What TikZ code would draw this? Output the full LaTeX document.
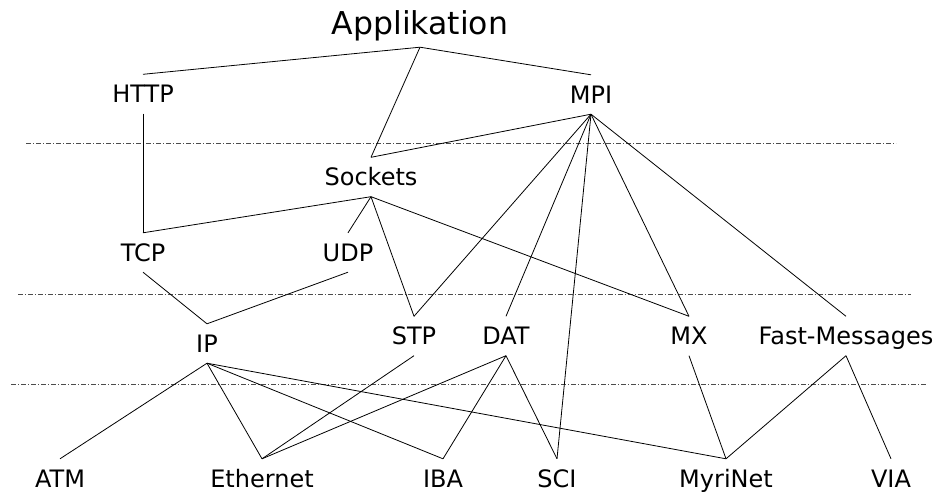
\documentclass[tikz,border=0pt]{standalone}
\usepackage{fontspec}
\setmainfont{DejaVu Sans}
\begin{document}
\begin{tikzpicture}[x=1pt,y=-1pt,
  lbl/.style={inner xsep=0pt, inner ysep=11pt, text height=17pt, text depth=0pt,
              font=\fontsize{24}{27}\selectfont},
  title/.style={inner xsep=0pt, inner ysep=12pt, text height=23pt, text depth=0pt,
              font=\fontsize{31.5}{34}\selectfont},
  link/.style={draw=black, line width=0.8pt},
  layer/.style={draw=black!70, line width=0.6pt, dash pattern=on 5pt off 2pt on 1pt off 2pt}]
\useasboundingbox (0,0) rectangle (938,495);

% layer separators
\coordinate (s1a) at (26,143);  \coordinate (s1b) at (896,143);
\coordinate (s2a) at (18,294);  \coordinate (s2b) at (911,294);
\coordinate (s3a) at (11,384);  \coordinate (s3b) at (926,384);
\draw[layer] (s1a) -- (s1b);
\draw[layer] (s2a) -- (s2b);
\draw[layer] (s3a) -- (s3b);

% nodes
\node[title] (app) at (420,23.5) {Applikation};
\node[lbl] (http) at (143,94) {HTTP};
\node[lbl] (mpi) at (591,94.5) {MPI};
\node[lbl] (sock) at (371,177) {Sockets};
\node[lbl] (tcp) at (143,252.5) {TCP};
\node[lbl] (udp) at (348,252.5) {UDP};
\node[lbl] (ip) at (207,343.5) {IP};
\node[lbl] (stp) at (414,336) {STP};
\node[lbl] (dat) at (506,336) {DAT};
\node[lbl] (mx) at (689,336) {MX};
\node[lbl] (fm) at (846,336) {Fast-Messages};
\node[lbl] (atm) at (60,478.5) {ATM};
\node[lbl] (eth) at (262,478.5) {Ethernet};
\node[lbl] (iba) at (443,478.5) {IBA};
\node[lbl] (sci) at (557,478.5) {SCI};
\node[lbl] (myri) at (726,478.5) {MyriNet};
\node[lbl] (via) at (891,478.5) {VIA};

% connections
\draw[link] (app.south) -- (http.north);
\draw[link] (app.south) -- (mpi.north);
\draw[link] (app.south) -- (sock.north);
\draw[link] (mpi.south) -- (sock.north);
\draw[link] (http.south) -- (tcp.north);
\draw[link] (sock.south) -- (tcp.north);
\draw[link] (sock.south) -- (udp.north);
\draw[link] (sock.south) -- (stp.north);
\draw[link] (sock.south) -- (mx.north);
\draw[link] (mpi.south) -- (stp.north);
\draw[link] (mpi.south) -- (dat.north);
\draw[link] (mpi.south) -- (sci.north);
\draw[link] (mpi.south) -- (mx.north);
\draw[link] (mpi.south) -- (fm.north);
\draw[link] (tcp.south) -- (ip.north);
\draw[link] (udp.south) -- (ip.north);
\draw[link] (ip.south) -- (atm.north);
\draw[link] (ip.south) -- (eth.north);
\draw[link] (ip.south) -- (iba.north);
\draw[link] (ip.south) -- (myri.north);
\draw[link] (stp.south) -- (eth.north);
\draw[link] (dat.south) -- (eth.north);
\draw[link] (dat.south) -- (iba.north);
\draw[link] (dat.south) -- (sci.north);
\draw[link] (mx.south) -- (myri.north);
\draw[link] (fm.south) -- (myri.north);
\draw[link] (fm.south) -- (via.north);
\end{tikzpicture}
\end{document}
